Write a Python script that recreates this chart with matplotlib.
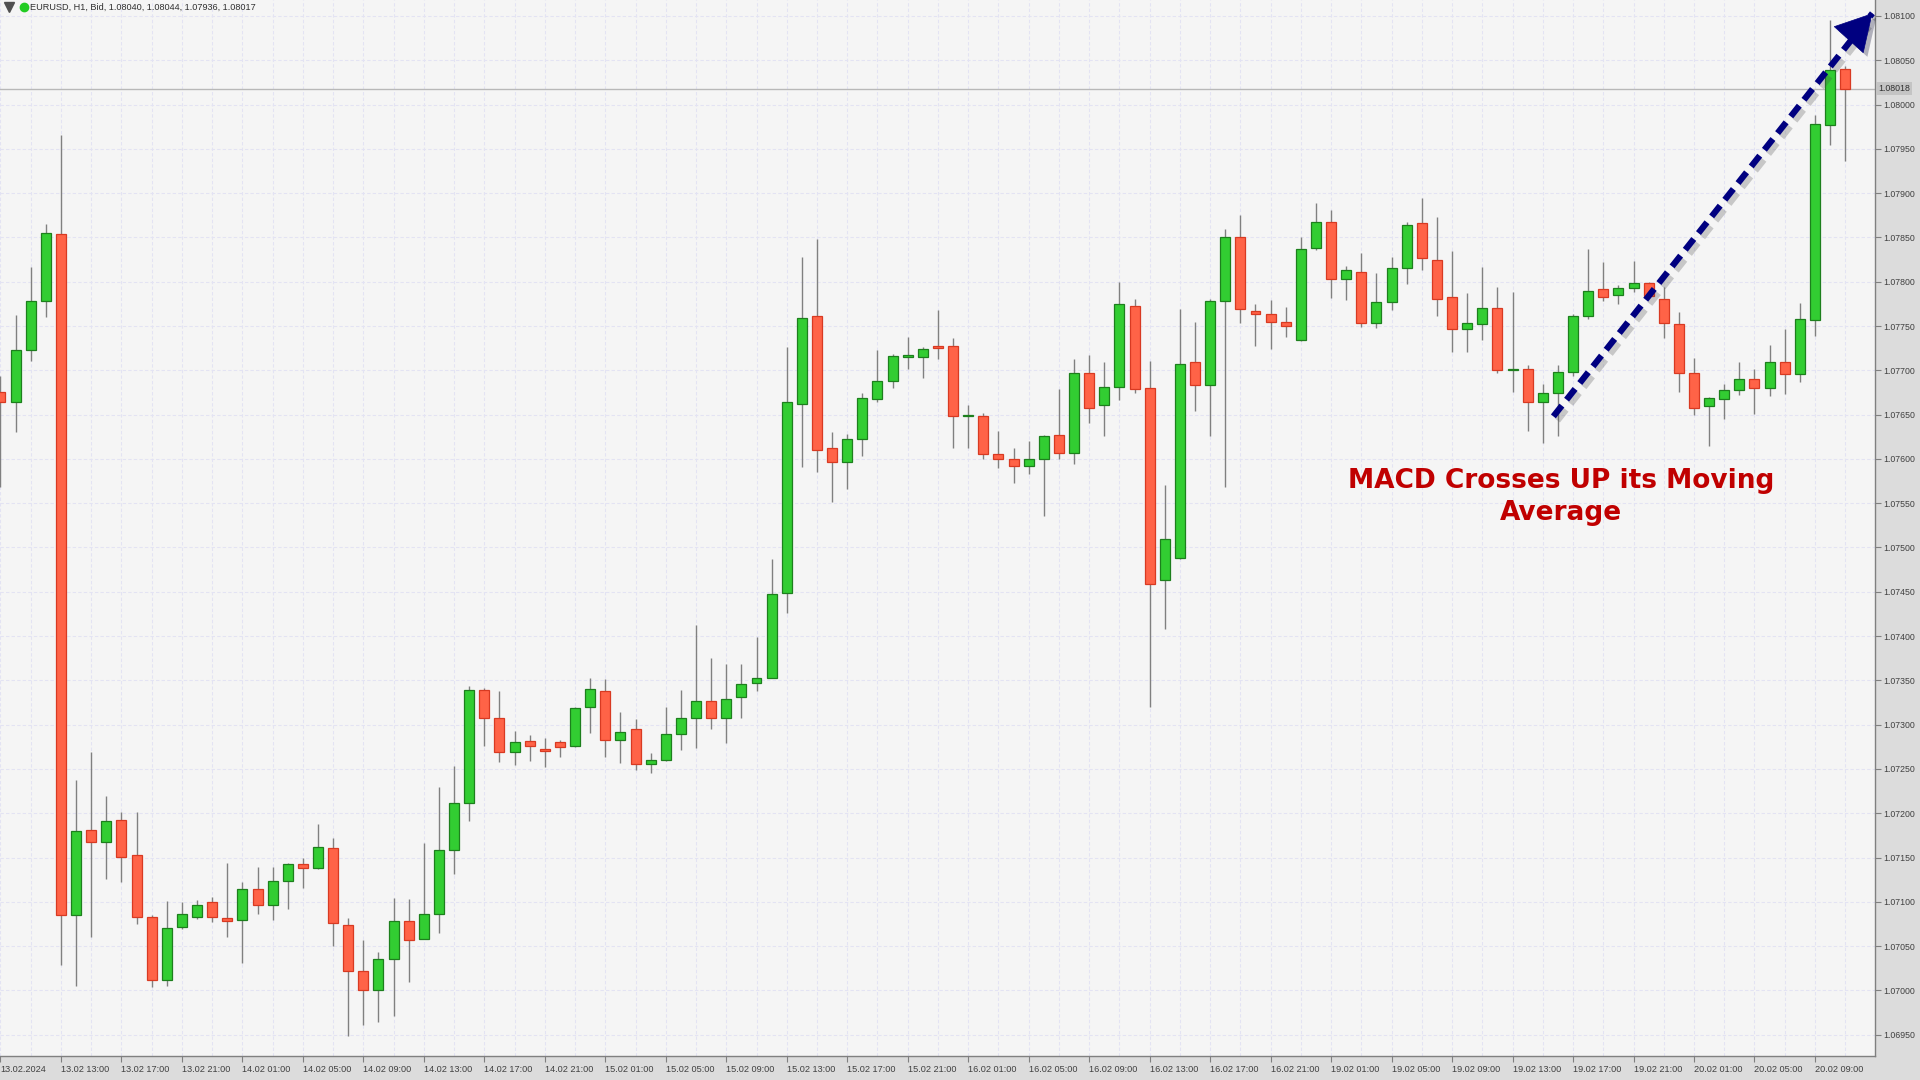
import matplotlib
matplotlib.use("Agg")
import matplotlib.pyplot as plt
import matplotlib.patheffects as pe
import numpy as np

# EURUSD H1 candles, 13.02.2024 09:00 -> 20.02.2024 11:00 (weekend skipped)
opens = [1.07675, 1.07664, 1.07723, 1.07778, 1.07854, 1.07085, 1.07181, 1.07167, 1.07192, 1.07153,
         1.07083, 1.07012, 1.07072, 1.07083, 1.07100, 1.07082, 1.07079, 1.07115, 1.07096, 1.07124,
         1.07143, 1.07138, 1.07161, 1.07074, 1.07022, 1.07001, 1.07036, 1.07078, 1.07058, 1.07086,
         1.07159, 1.07212, 1.07339, 1.07307, 1.07269, 1.07282, 1.07273, 1.07281, 1.07276, 1.07320,
         1.07338, 1.07283, 1.07295, 1.07256, 1.07260, 1.07289, 1.07308, 1.07327, 1.07307, 1.07331,
         1.07347, 1.07353, 1.07449, 1.07662, 1.07761, 1.07612, 1.07596, 1.07622, 1.07668, 1.07688,
         1.07715, 1.07715, 1.07727, 1.07727, 1.07648, 1.07648, 1.07605, 1.07600, 1.07592, 1.07600,
         1.07627, 1.07607, 1.07697, 1.07661, 1.07681, 1.07773, 1.07680, 1.07463, 1.07488, 1.07709,
         1.07683, 1.07778, 1.07851, 1.07767, 1.07764, 1.07754, 1.07734, 1.07838, 1.07867, 1.07803,
         1.07811, 1.07753, 1.07777, 1.07816, 1.07866, 1.07825, 1.07783, 1.07747, 1.07752, 1.07770,
         1.07700, 1.07701, 1.07664, 1.07674, 1.07698, 1.07761, 1.07792, 1.07785, 1.07793, 1.07798,
         1.07781, 1.07752, 1.07697, 1.07660, 1.07668, 1.07678, 1.07690, 1.07680, 1.07709, 1.07696,
         1.07757, 1.07977, 1.08040]
highs = [1.07694, 1.07762, 1.07817, 1.07865, 1.07966, 1.07237, 1.07269, 1.07220, 1.07201, 1.07201,
         1.07085, 1.07101, 1.07100, 1.07102, 1.07106, 1.07144, 1.07122, 1.07139, 1.07139, 1.07144,
         1.07149, 1.07188, 1.07172, 1.07082, 1.07057, 1.07043, 1.07104, 1.07103, 1.07166, 1.07230,
         1.07253, 1.07344, 1.07341, 1.07338, 1.07293, 1.07288, 1.07285, 1.07283, 1.07320, 1.07353,
         1.07351, 1.07314, 1.07306, 1.07268, 1.07320, 1.07339, 1.07413, 1.07375, 1.07368, 1.07368,
         1.07399, 1.07487, 1.07726, 1.07828, 1.07848, 1.07630, 1.07628, 1.07674, 1.07723, 1.07718,
         1.07738, 1.07726, 1.07768, 1.07736, 1.07661, 1.07652, 1.07632, 1.07612, 1.07620, 1.07627,
         1.07679, 1.07713, 1.07717, 1.07709, 1.07800, 1.07781, 1.07711, 1.07570, 1.07769, 1.07754,
         1.07780, 1.07860, 1.07875, 1.07775, 1.07779, 1.07772, 1.07850, 1.07889, 1.07881, 1.07818,
         1.07832, 1.07810, 1.07828, 1.07867, 1.07895, 1.07873, 1.07835, 1.07787, 1.07817, 1.07794,
         1.07788, 1.07706, 1.07685, 1.07706, 1.07764, 1.07837, 1.07822, 1.07796, 1.07823, 1.07800,
         1.07794, 1.07766, 1.07714, 1.07670, 1.07685, 1.07709, 1.07701, 1.07729, 1.07747, 1.07776,
         1.07988, 1.08095, 1.08044]
lows = [1.07568, 1.07630, 1.07711, 1.07760, 1.07029, 1.07005, 1.07060, 1.07126, 1.07122, 1.07075,
        1.07004, 1.07005, 1.07069, 1.07081, 1.07077, 1.07060, 1.07031, 1.07086, 1.07080, 1.07092,
        1.07116, 1.07137, 1.07050, 1.06949, 1.06961, 1.06964, 1.06971, 1.07010, 1.07058, 1.07065,
        1.07131, 1.07191, 1.07276, 1.07258, 1.07255, 1.07259, 1.07252, 1.07263, 1.07275, 1.07291,
        1.07263, 1.07257, 1.07249, 1.07246, 1.07259, 1.07271, 1.07274, 1.07295, 1.07279, 1.07307,
        1.07338, 1.07353, 1.07426, 1.07591, 1.07585, 1.07551, 1.07566, 1.07603, 1.07664, 1.07680,
        1.07702, 1.07691, 1.07713, 1.07612, 1.07612, 1.07600, 1.07590, 1.07573, 1.07583, 1.07536,
        1.07600, 1.07594, 1.07640, 1.07626, 1.07667, 1.07674, 1.07320, 1.07408, 1.07487, 1.07654,
        1.07626, 1.07568, 1.07753, 1.07728, 1.07724, 1.07738, 1.07733, 1.07836, 1.07782, 1.07779,
        1.07749, 1.07748, 1.07768, 1.07797, 1.07813, 1.07761, 1.07721, 1.07721, 1.07734, 1.07697,
        1.07675, 1.07631, 1.07618, 1.07626, 1.07694, 1.07758, 1.07778, 1.07775, 1.07788, 1.07782,
        1.07736, 1.07676, 1.07650, 1.07614, 1.07645, 1.07672, 1.07651, 1.07671, 1.07673, 1.07687,
        1.07739, 1.07954, 1.07936]
closes = [1.07664, 1.07723, 1.07778, 1.07855, 1.07085, 1.07180, 1.07167, 1.07191, 1.07151, 1.07083,
          1.07012, 1.07071, 1.07086, 1.07096, 1.07083, 1.07078, 1.07115, 1.07096, 1.07124, 1.07143,
          1.07138, 1.07162, 1.07076, 1.07022, 1.07001, 1.07035, 1.07078, 1.07057, 1.07086, 1.07159,
          1.07212, 1.07339, 1.07307, 1.07269, 1.07281, 1.07276, 1.07270, 1.07275, 1.07319, 1.07340,
          1.07283, 1.07292, 1.07256, 1.07260, 1.07289, 1.07308, 1.07327, 1.07308, 1.07329, 1.07346,
          1.07353, 1.07448, 1.07664, 1.07759, 1.07610, 1.07596, 1.07622, 1.07669, 1.07688, 1.07716,
          1.07717, 1.07724, 1.07725, 1.07648, 1.07649, 1.07605, 1.07600, 1.07592, 1.07600, 1.07626,
          1.07607, 1.07697, 1.07658, 1.07681, 1.07775, 1.07679, 1.07459, 1.07510, 1.07707, 1.07683,
          1.07778, 1.07851, 1.07769, 1.07764, 1.07754, 1.07750, 1.07837, 1.07867, 1.07803, 1.07813,
          1.07753, 1.07777, 1.07816, 1.07864, 1.07827, 1.07781, 1.07747, 1.07753, 1.07770, 1.07700,
          1.07701, 1.07664, 1.07674, 1.07698, 1.07761, 1.07789, 1.07783, 1.07793, 1.07798, 1.07784,
          1.07753, 1.07697, 1.07658, 1.07669, 1.07678, 1.07690, 1.07680, 1.07709, 1.07696, 1.07758,
          1.07978, 1.08039, 1.08017]

tick_labels = ["13.02.2024", "13.02 13:00", "13.02 17:00", "13.02 21:00", "14.02 01:00", "14.02 05:00",
               "14.02 09:00", "14.02 13:00", "14.02 17:00", "14.02 21:00", "15.02 01:00", "15.02 05:00",
               "15.02 09:00", "15.02 13:00", "15.02 17:00", "15.02 21:00", "16.02 01:00", "16.02 05:00",
               "16.02 09:00", "16.02 13:00", "16.02 17:00", "16.02 21:00", "19.02 01:00", "19.02 05:00",
               "19.02 09:00", "19.02 13:00", "19.02 17:00", "19.02 21:00", "20.02 01:00", "20.02 05:00",
               "20.02 09:00"]

header = "EURUSD, H1, Bid, 1.08040, 1.08044, 1.07936, 1.08017"
bid_price = 1.08018
note = "MACD Crosses UP its Moving\nAverage"
note_pos = (103.2, 1.07557)
arrow_start = (102.7, 1.07648)
arrow_end = (123.8, 1.08103)

o = np.array(opens)
h = np.array(highs)
l = np.array(lows)
c = np.array(closes)
x = np.arange(len(o))

panel_gray = "#dcdcdc"
fig = plt.figure(figsize=(19.2, 10.8), dpi=100, facecolor=panel_gray)
ax = fig.add_axes([0, 1 - 1056 / 1080, 1875 / 1920, 1056 / 1080])
ax.set_facecolor("#f5f5f5")

up = c >= o
body_bottom = np.minimum(o, c)
body_height = np.maximum(np.abs(c - o), 0.000015)
fills = np.where(up, "#32cd32", "#ff6347")
edges = np.where(up, "#1d7f1d", "#d83a22")

ax.vlines(x, l, h, color="#808080", lw=1.0, zorder=2)
ax.bar(x, body_height, bottom=body_bottom, width=0.66, color=fills,
       edgecolor=edges, linewidth=0.9, zorder=3)

# current bid line
ax.axhline(bid_price, color="#b8b8b8", lw=1.0, zorder=1)

ax.set_xlim(-0.03, 123.97)
ax.set_ylim(1.06926, 1.08118)

# grid
for gx in range(0, 124, 2):
    ax.axvline(gx, color="#e3e3f3", lw=0.8, ls=(0, (3, 2)), zorder=0)
for gy in np.arange(1.0695, 1.0811, 0.0005):
    ax.axhline(gy, color="#e3e3f3", lw=0.8, ls=(0, (3, 2)), zorder=0)

ax.yaxis.tick_right()
yt = np.arange(1.0695, 1.08101, 0.0005)
ax.set_yticks(yt)
ax.set_yticklabels(["%.5f" % v for v in yt], fontsize=6.3, color="#404040",
                   family=["Liberation Sans", "DejaVu Sans"])
ax.set_xticks(np.arange(0, 121, 4))
ax.set_xticklabels(tick_labels, fontsize=6.6, color="#404040",
                   family=["Liberation Sans Narrow", "Liberation Sans", "DejaVu Sans"], ha="left")
ax.tick_params(axis="y", direction="out", length=4, width=0.8, color="#808080", pad=2)
ax.tick_params(axis="x", direction="out", length=4, width=0.8, color="#808080", pad=2.5)

for side in ["top", "left"]:
    ax.spines[side].set_visible(False)
for side in ["right", "bottom"]:
    ax.spines[side].set_color("#808080")
    ax.spines[side].set_linewidth(1.0)

# bid price box on the axis
ax.text(1.0 + 3 / 1875, bid_price, "%.5f" % bid_price, transform=ax.get_yaxis_transform(),
        fontsize=6.3, color="#303030", va="center", ha="left", clip_on=False,
        family=["Liberation Sans", "DejaVu Sans"],
        bbox=dict(boxstyle="square,pad=0.25", fc="#c4c4c4", ec="none"))

# header
ax.plot([9 / 1875], [1 - 7 / 1056], marker="v", ms=7, color="#505050",
        transform=ax.transAxes, clip_on=False)
ax.plot([24 / 1875], [1 - 7 / 1056], marker="o", ms=6, color="#22cc22",
        transform=ax.transAxes, clip_on=False)
ax.text(30 / 1875, 1 - 7 / 1056, header, transform=ax.transAxes, fontsize=6.6,
        color="#303030", va="center", ha="left", family=["Liberation Sans", "DejaVu Sans"])

# dashed arrow
shadow = [pe.SimpleLineShadow(offset=(3, -3), shadow_color="#505050", alpha=0.28), pe.Normal()]
ax.plot([arrow_start[0], arrow_end[0]], [arrow_start[1], arrow_end[1]], color="#000080",
        lw=4.5, ls=(0, (2.2, 1.2)), solid_capstyle="butt", dash_capstyle="butt",
        zorder=5, path_effects=shadow)
ax.annotate("", xy=arrow_end, xytext=(arrow_end[0] - 1.0, arrow_end[1] - 0.00019),
            arrowprops=dict(arrowstyle="-|>,head_length=1.25,head_width=0.7", color="#000080",
                            lw=0.5, mutation_scale=20, shrinkA=0, shrinkB=0,
                            path_effects=[pe.withSimplePatchShadow(offset=(3, -3), alpha=0.28)]),
            zorder=6)

ax.text(note_pos[0], note_pos[1], note, fontsize=19, fontweight="bold", color="#c00000",
        ha="center", va="center", multialignment="center", linespacing=1.3, zorder=6,
        family="DejaVu Sans")

fig.savefig("out.png", dpi=100, facecolor=panel_gray)
